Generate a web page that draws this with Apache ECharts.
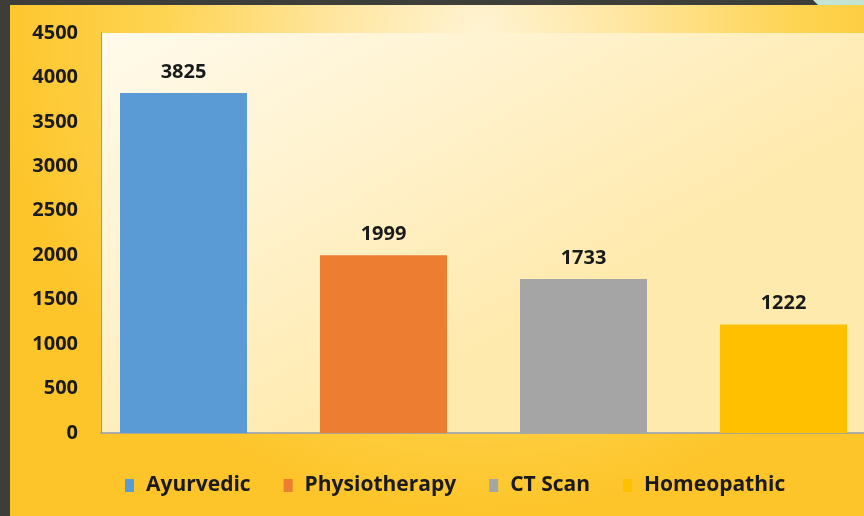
<!DOCTYPE html>
<html>
<head>
<meta charset="utf-8">
<script src="https://cdn.jsdelivr.net/npm/echarts@6/dist/echarts.min.js"></script>
<style>
html, body { margin: 0; padding: 0; background: #3d3d3a; }
#chart { width: 864px; height: 516px; }
</style>
</head>
<body>
<div id="chart"></div>
<script>
// data
var categories = ['Ayurvedic', 'Physiotherapy', 'CT Scan', 'Homeopathic'];
var values = [3825, 1999, 1733, 1222];
var colors = ['#5b9bd5', '#ed7d31', '#a5a5a5', '#ffc000'];

var chart = echarts.init(document.getElementById('chart'));

var font = '"Open Sans", Lato, sans-serif';

// one series per category so the legend lists each one
var series = categories.map(function (name, i) {
  var d = categories.map(function (c, j) { return j === i ? values[i] : '-'; });
  return {
    name: name,
    type: 'bar',
    xAxisIndex: 1,
    yAxisIndex: 1,
    barWidth: 127,
    barGap: '-100%',
    itemStyle: { color: colors[i] },
    label: {
      show: true,
      position: 'top',
      distance: 11,
      color: '#1a1a1a',
      fontFamily: font,
      fontWeight: 'bold',
      fontSize: 20
    },
    data: d
  };
});

var option = {
  backgroundColor: '#3d3d3a',
  animation: false,
  graphic: [
    {
      type: 'rect',
      z: -10,
      shape: { x: 10, y: 5, width: 854, height: 511 },
      style: {
        fill: {
          type: 'radial', x: 0.55, y: 0.05, r: 0.95,
          colorStops: [
            { offset: 0, color: '#fff3d2' },
            { offset: 0.3, color: '#ffe6a0' },
            { offset: 0.65, color: '#fed452' },
            { offset: 1, color: '#fdc52a' }
          ]
        }
      }
    },
    {
      type: 'polygon',
      z: -10,
      shape: { points: [[813, 0], [864, 0], [864, 5], [818, 5]] },
      style: { fill: '#c4e4d3' }
    }
  ],
  legend: {
    data: categories,
    left: 120,
    top: 470,
    icon: 'rect',
    itemWidth: 9,
    itemHeight: 13,
    itemGap: 33,
    textStyle: {
      color: '#1a1a1a',
      fontFamily: font,
      fontWeight: 'bold',
      fontSize: 21,
      padding: [0, 0, 0, 7]
    }
  },
  grid: [
    {
      left: 101, top: 33, right: -10, bottom: 83,
      outerBoundsMode: 'none',
      show: true,
      borderWidth: 0,
      backgroundColor: {
        type: 'linear', x: 0, y: 0, x2: 0.3, y2: 1,
        colorStops: [
          { offset: 0, color: '#fffaec' },
          { offset: 1, color: '#ffeaae' }
        ]
      }
    },
    { left: 83.5, top: 33, width: 800, height: 400, outerBoundsMode: 'none' }
  ],
  xAxis: [
    {
      gridIndex: 0,
      type: 'category',
      data: categories,
      axisLine: { lineStyle: { color: '#8e9fb6', width: 1.5 } },
      axisTick: { show: false },
      axisLabel: { show: false }
    },
    {
      gridIndex: 1,
      type: 'category',
      data: categories,
      show: false
    }
  ],
  yAxis: [
    {
      gridIndex: 0,
      type: 'value',
      min: 0,
      max: 4500,
      interval: 500,
      axisLine: { show: true, lineStyle: { color: '#9a9a9a' } },
      axisTick: { show: false },
      splitLine: { show: false },
      axisLabel: {
        margin: 23,
        color: '#1a1a1a',
        fontFamily: font,
        fontWeight: 'bold',
        fontSize: 20,
        formatter: function (v) { return String(v); }
      }
    },
    {
      gridIndex: 1,
      type: 'value',
      min: 0,
      max: 4500,
      show: false
    }
  ],
  series: series
};

chart.setOption(option);
</script>
</body>
</html>
